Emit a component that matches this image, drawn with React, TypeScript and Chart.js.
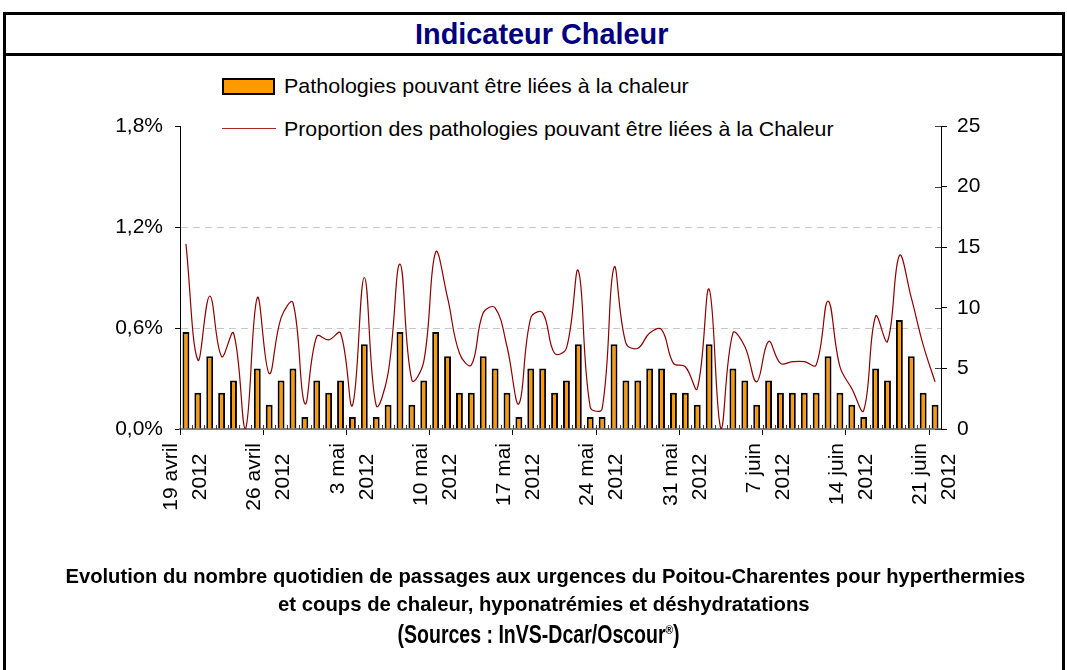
import React, { useEffect, useLayoutEffect, useRef } from 'react';
import { Chart, registerables } from 'chart.js';

Chart.register(...registerables);

// ---------- DATA ----------
const dates = [
  '2012-04-19', '2012-04-20', '2012-04-21', '2012-04-22', '2012-04-23', '2012-04-24', '2012-04-25',
  '2012-04-26', '2012-04-27', '2012-04-28', '2012-04-29', '2012-04-30', '2012-05-01', '2012-05-02',
  '2012-05-03', '2012-05-04', '2012-05-05', '2012-05-06', '2012-05-07', '2012-05-08', '2012-05-09',
  '2012-05-10', '2012-05-11', '2012-05-12', '2012-05-13', '2012-05-14', '2012-05-15', '2012-05-16',
  '2012-05-17', '2012-05-18', '2012-05-19', '2012-05-20', '2012-05-21', '2012-05-22', '2012-05-23',
  '2012-05-24', '2012-05-25', '2012-05-26', '2012-05-27', '2012-05-28', '2012-05-29', '2012-05-30',
  '2012-05-31', '2012-06-01', '2012-06-02', '2012-06-03', '2012-06-04', '2012-06-05', '2012-06-06',
  '2012-06-07', '2012-06-08', '2012-06-09', '2012-06-10', '2012-06-11', '2012-06-12', '2012-06-13',
  '2012-06-14', '2012-06-15', '2012-06-16', '2012-06-17', '2012-06-18', '2012-06-19', '2012-06-20',
  '2012-06-21',
];

const tickDates = ['2012-04-19', '2012-04-26', '2012-05-03', '2012-05-10', '2012-05-17', '2012-05-24', '2012-05-31', '2012-06-07', '2012-06-14', '2012-06-21'];
const tickNames = ['19 avril', '26 avril', '3 mai', '10 mai', '17 mai', '24 mai', '31 mai', '7 juin', '14 juin', '21 juin'];
const tickYear = '2012';

// daily counts (right axis)
const counts = [
  8, 3, 6, 3, 4, 0, 5, 2, 4, 5, 1, 4, 3, 4, 1, 7, 1, 2, 8, 2, 4, 8,
  6, 3, 3, 6, 5, 3, 1, 5, 5, 3, 4, 7, 1, 1, 7, 4, 4, 5, 5, 3, 3,
  2, 7, 0, 5, 4, 2, 4, 3, 3, 3, 3, 6, 3, 2, 1, 5, 4, 9, 6, 3, 2,
];

// proportion in % (left axis)
const proportions = [
  1.10, 0.41, 0.79, 0.43, 0.57, 0.00, 0.78, 0.33, 0.66, 0.75, 0.15, 0.55, 0.53, 0.57, 0.14, 0.90, 0.14, 0.33, 0.98, 0.29, 0.40, 1.05,
  0.78, 0.45, 0.38, 0.69, 0.72, 0.49, 0.15, 0.66, 0.69, 0.45, 0.48, 0.94, 0.13, 0.12, 0.96, 0.51, 0.48, 0.57, 0.59, 0.39, 0.37,
  0.24, 0.83, 0.00, 0.57, 0.49, 0.28, 0.52, 0.39, 0.40, 0.40, 0.38, 0.76, 0.37, 0.24, 0.11, 0.67, 0.52, 1.03, 0.78, 0.50, 0.28,
];

const barLabel = 'Pathologies pouvant être liées à la chaleur';
const lineLabel = 'Proportion des pathologies pouvant être liées à la Chaleur';
const titleText = 'Indicateur Chaleur';
const captionLine1 = 'Evolution du nombre quotidien de passages aux urgences du Poitou-Charentes pour hyperthermies';
const captionLine2 = 'et coups de chaleur, hyponatrémies et déshydratations';
const captionSource = '(Sources : InVS-Dcar/Oscour';

const FONT = "'Liberation Sans', Arial, sans-serif";

const minorTicks = {
  id: 'minorTicks',
  afterDatasetsDraw(chart: any) {
    const { ctx, chartArea, scales } = chart;
    const x = scales.x;
    const n = dates.length;
    const half = (x.getPixelForValue(1) - x.getPixelForValue(0)) / 2;
    ctx.save();
    ctx.strokeStyle = '#404040';
    ctx.lineWidth = 1;
    ctx.beginPath();
    for (let i = 0; i < n; i++) {
      const px = Math.round(x.getPixelForValue(i) - half) + 0.5;
      ctx.moveTo(px, chartArea.bottom);
      ctx.lineTo(px, chartArea.bottom - 4);
    }
    const y1 = scales.y1;
    y1.ticks.forEach((t: any) => {
      const py = Math.round(y1.getPixelForValue(t.value)) + 0.5;
      ctx.moveTo(chartArea.right - 6, py);
      ctx.lineTo(chartArea.right, py);
    });
    ctx.stroke();
    ctx.restore();
  },
};

function FitText(props: { target: number; center?: number; left?: number; top: number; size: number; weight?: string; color?: string; children: any }) {
  const ref = useRef<HTMLSpanElement>(null);
  useLayoutEffect(() => {
    const el = ref.current;
    if (!el) return;
    el.style.transform = 'none';
    const w = el.offsetWidth;
    if (w > 0) el.style.transform = `scaleX(${props.target / w})`;
  });
  const centered = props.center !== undefined;
  return (
    <div
      style={{
        position: 'absolute',
        left: centered ? (props.center as number) - 600 : props.left,
        width: centered ? 1200 : undefined,
        top: props.top,
        textAlign: centered ? 'center' : 'left',
        fontFamily: FONT,
        fontSize: props.size,
        lineHeight: 1,
        fontWeight: props.weight || 'normal',
        color: props.color || '#000',
        whiteSpace: 'nowrap',
      }}
    >
      <span ref={ref} style={{ display: 'inline-block', transformOrigin: centered ? 'center' : 'left' }}>
        {props.children}
      </span>
    </div>
  );
}

export default function App() {
  const canvasRef = useRef<HTMLCanvasElement>(null);

  useEffect(() => {
    const canvas = canvasRef.current;
    if (!canvas) return;
    const chart = new Chart(canvas, {
      type: 'bar',
      data: {
        labels: dates,
        datasets: [
          {
            type: 'line',
            label: lineLabel,
            data: proportions,
            yAxisID: 'y',
            borderColor: '#8B0000',
            borderWidth: 1.2,
            pointRadius: 0,
            tension: 0.4,
            fill: false,
            order: 0,
          } as any,
          {
            type: 'bar',
            label: barLabel,
            data: counts,
            yAxisID: 'y1',
            backgroundColor: '#FF9900',
            borderColor: '#000000',
            borderWidth: 2,
            barPercentage: 0.58,
            categoryPercentage: 1,
            order: 1,
          } as any,
        ],
      },
      options: {
        responsive: false,
        animation: false,
        devicePixelRatio: 1,
        layout: { padding: { left: 0, right: 46, top: 126, bottom: 0 } },
        plugins: {
          legend: { display: false },
          tooltip: { enabled: false },
          title: { display: false },
        },
        scales: {
          x: {
            type: 'category',
            offset: true,
            grid: {
              display: true,
              offset: true,
              drawOnChartArea: false,
              drawTicks: true,
              tickLength: 6,
              tickWidth: 1,
              tickColor: (c: any) => (c.index % 7 === 0 ? '#000000' : 'rgba(0,0,0,0)'),
            },
            border: { display: true, color: '#808080', width: 2 },
            ticks: {
              autoSkip: false,
              minRotation: 90,
              maxRotation: 90,
              padding: 8,
              labelOffset: -14.5,
              color: '#000',
              font: { family: FONT, size: 21, lineHeight: 1.38 },
              callback: (_v: any, index: number) => {
                const k = tickDates.indexOf(dates[index]);
                return k >= 0 ? [tickNames[k], tickYear + '\u2002'] : '';
              },
            },
            afterFit: (s: any) => {
              s.height = 241;
            },
          },
          y: {
            type: 'linear',
            position: 'left',
            min: 0,
            max: 1.8,
            ticks: {
              stepSize: 0.6,
              padding: 12,
              color: '#000',
              font: { family: FONT, size: 21 },
              callback: (v: any) => Number(v).toFixed(1).replace('.', ',') + '%',
            },
            grid: {
              drawTicks: true,
              tickLength: 5,
              tickColor: '#000',
              lineWidth: 1,
              color: (c: any) => (c.index === 1 || c.index === 2 ? '#c8c8c8' : 'rgba(0,0,0,0)'),
            },
            border: { display: true, color: '#000', width: 1, dash: [7, 5] },
            afterFit: (s: any) => {
              s.width = 180;
            },
          },
          y1: {
            type: 'linear',
            position: 'right',
            min: 0,
            max: 25,
            ticks: {
              stepSize: 5,
              padding: 10,
              color: '#000',
              font: { family: FONT, size: 21 },
            },
            grid: {
              drawOnChartArea: false,
              drawTicks: true,
              tickLength: 6,
              tickColor: '#000',
            },
            border: { display: true, color: '#000', width: 1 },
            afterFit: (s: any) => {
              s.width = 80;
            },
          },
        },
      },
      plugins: [minorTicks],
    } as any);
    return () => chart.destroy();
  }, []);

  return (
    <div style={{ position: 'fixed', left: 0, top: 0, width: 1067, height: 670, background: '#fff', overflow: 'hidden' }}>
      {/* frame */}
      <div style={{ position: 'absolute', left: 3, top: 12, width: 1062, height: 700, border: '3px solid #000', boxSizing: 'border-box' }} />
      <div style={{ position: 'absolute', left: 3, top: 53, width: 1062, height: 3, background: '#000' }} />

      <FitText target={253} center={541.5} top={19} size={30} weight="bold" color="#000080">
        {titleText}
      </FitText>

      {/* legend */}
      <div style={{ position: 'absolute', left: 222, top: 78, width: 53, height: 17, background: '#FF9900', border: '2px solid #000', boxSizing: 'border-box' }} />
      <FitText target={405} left={284} top={75} size={21}>
        {barLabel}
      </FitText>
      <div style={{ position: 'absolute', left: 222, top: 127.5, width: 54, height: 1.5, background: '#A52A2A' }} />
      <FitText target={550} left={284} top={118} size={21}>
        {lineLabel}
      </FitText>

      <canvas ref={canvasRef} width={1067} height={670} style={{ position: 'absolute', left: 0, top: 0, width: 1067, height: 670 }} />

      {/* caption */}
      <FitText target={960} center={545} top={565} size={21} weight="bold">
        {captionLine1}
      </FitText>
      <FitText target={532} center={544} top={593} size={21} weight="bold">
        {captionLine2}
      </FitText>
      <FitText target={282} center={539} top={622} size={25} weight="bold">
        {captionSource}
        <sup style={{ fontSize: 13 }}>®</sup>)
      </FitText>
    </div>
  );
}
